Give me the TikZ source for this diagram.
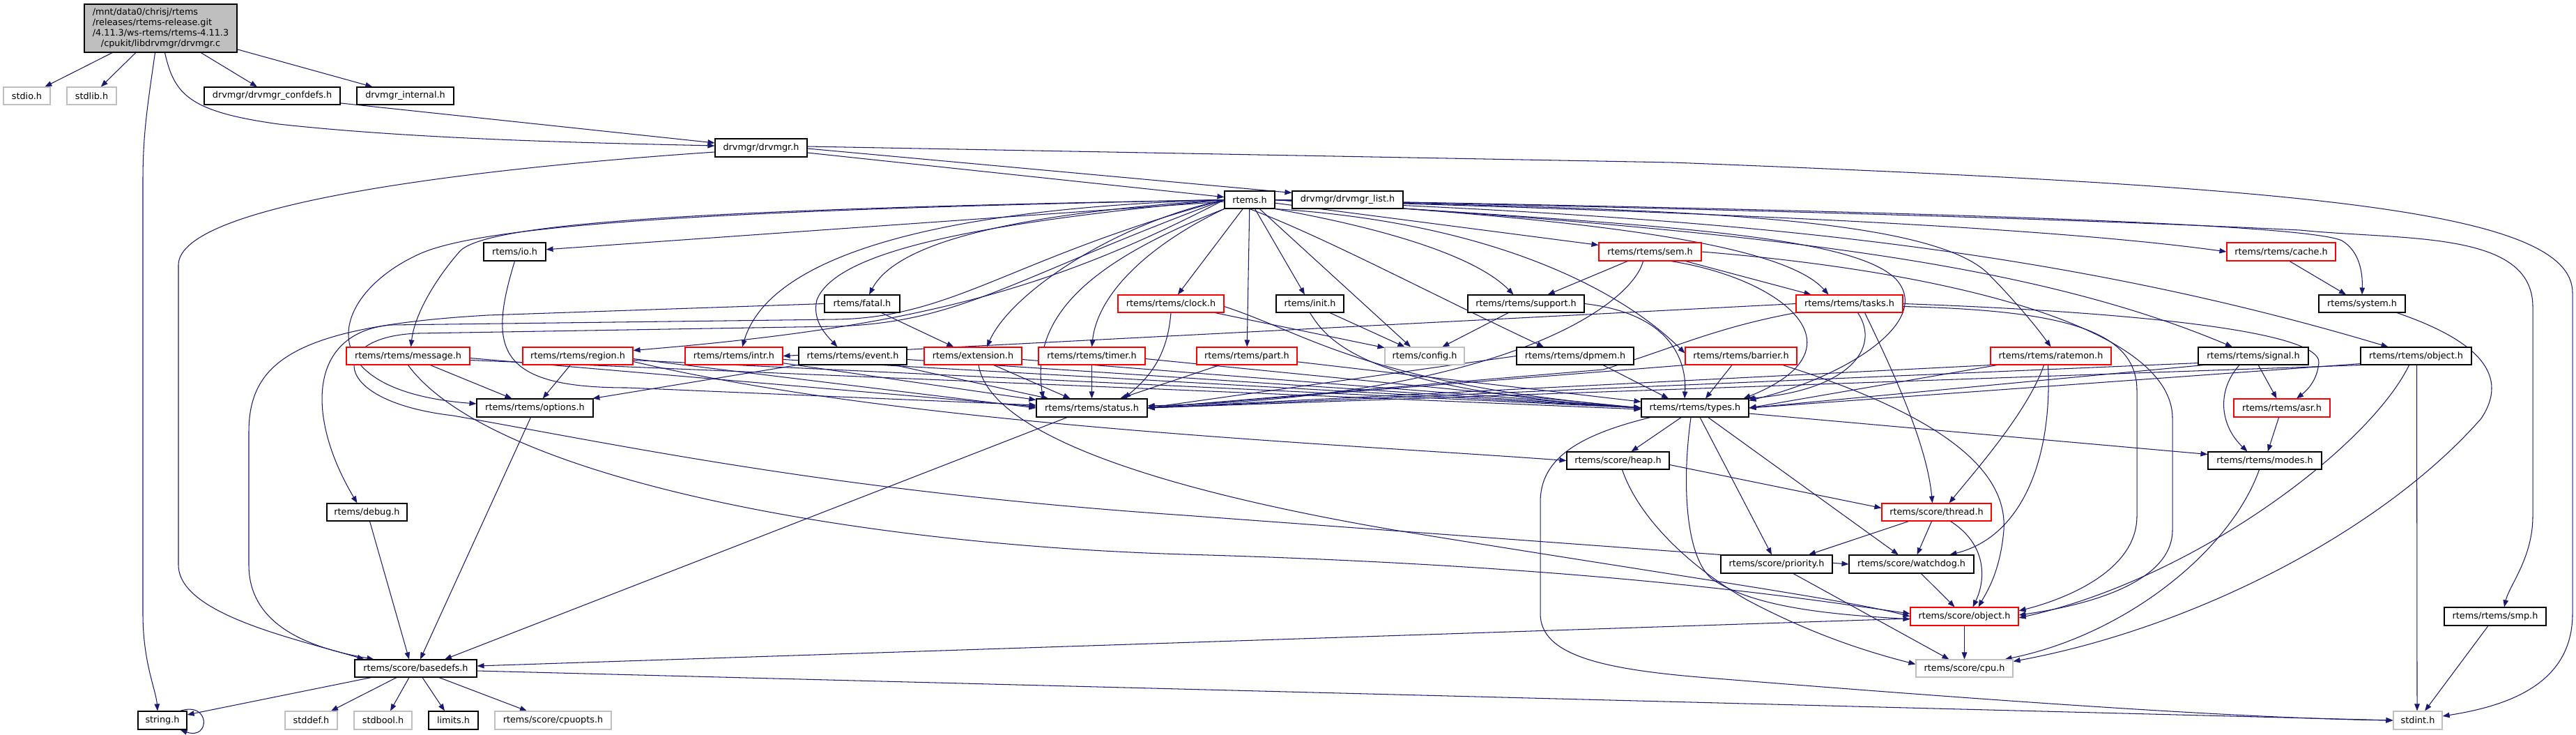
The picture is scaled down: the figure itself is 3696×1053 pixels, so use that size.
\documentclass[tikz,border=0pt]{standalone}
\usepackage{fontspec}
\setmainfont{DejaVu Sans}
\usetikzlibrary{arrows.meta}
\pgfdeclarelayer{bg}
\pgfsetlayers{bg,main}
\definecolor{edgec}{HTML}{191970}
\definecolor{grayb}{HTML}{BFBFBF}
\definecolor{redb}{HTML}{FF0000}
\newcommand{\mknode}[7]{\node[#6, minimum width={(#3-(#2))*1pt}, minimum height={(#5-(#4))*1pt}] (#1) at ({(#2+#3)/2},{(#4+#5)/2}) {#7};}
\begin{document}
\begin{tikzpicture}[x=1pt,y=-1pt,
 base/.style={rectangle, inner sep=0pt, line width=1.1pt, font=\fontsize{12.8}{15}\selectfont, fill=white, text=black},
 doc/.style={base, draw=black},
 trunc/.style={base, draw=redb},
 ext/.style={base, draw=grayb},
 mainn/.style={base, draw=black, fill=grayb},
 lnk/.style={draw=edgec, line width=1.05pt, -{Triangle[length=10pt,width=7.5pt]}}]
\useasboundingbox (0,0) rectangle (3696,1053);
% nodes
\mknode{main}{121}{340}{6}{75}{mainn}{\begin{tabular}{@{}l@{}}/mnt/data0/chrisj/rtems\\/releases/rtems-release.git\\/4.11.3/ws-rtems/rtems-4.11.3\\\multicolumn{1}{@{}c@{}}{/cpukit/libdrvmgr/drvmgr.c}\end{tabular}}
\mknode{stdio}{5}{72}{125}{150}{ext}{stdio.h}
\mknode{stdlib}{96}{167}{125}{150}{ext}{stdlib.h}
\mknode{confdefs}{293}{488}{125}{150}{doc}{drvmgr/drvmgr\_confdefs.h}
\mknode{internal}{512}{651}{125}{150}{doc}{drvmgr\_internal.h}
\mknode{drvmgr}{1026}{1158}{199}{225}{doc}{drvmgr/drvmgr.h}
\mknode{rtemsh}{1757}{1829}{274}{299}{doc}{rtems.h}
\mknode{dlist}{1854}{2013}{274}{299}{doc}{drvmgr/drvmgr\_list.h}
\mknode{io}{694}{783}{348}{374}{doc}{rtems/io.h}
\mknode{sem}{2294}{2441}{348}{374}{trunc}{rtems/rtems/sem.h}
\mknode{cache}{3195}{3351}{348}{374}{trunc}{rtems/rtems/cache.h}
\mknode{fatal}{1183}{1291}{423}{448}{doc}{rtems/fatal.h}
\mknode{clock}{1604}{1756}{423}{448}{trunc}{rtems/rtems/clock.h}
\mknode{init}{1831}{1928}{423}{448}{doc}{rtems/init.h}
\mknode{support}{2106}{2273}{423}{448}{doc}{rtems/rtems/support.h}
\mknode{tasks}{2577}{2730}{423}{448}{trunc}{rtems/rtems/tasks.h}
\mknode{system}{3327}{3451}{423}{448}{doc}{rtems/system.h}
\mknode{message}{497}{674}{498}{523}{trunc}{rtems/rtems/message.h}
\mknode{region}{750}{908}{498}{523}{trunc}{rtems/rtems/region.h}
\mknode{intr}{983}{1123}{498}{523}{trunc}{rtems/rtems/intr.h}
\mknode{event}{1146}{1301}{498}{523}{doc}{rtems/rtems/event.h}
\mknode{extension}{1326}{1466}{498}{523}{trunc}{rtems/extension.h}
\mknode{timer}{1490}{1643}{498}{523}{trunc}{rtems/rtems/timer.h}
\mknode{part}{1717}{1861}{498}{523}{trunc}{rtems/rtems/part.h}
\mknode{config}{1987}{2101}{498}{523}{ext}{rtems/config.h}
\mknode{dpmem}{2176}{2344}{498}{523}{doc}{rtems/rtems/dpmem.h}
\mknode{barrier}{2418}{2578}{498}{523}{trunc}{rtems/rtems/barrier.h}
\mknode{ratemon}{2856}{3029}{498}{523}{trunc}{rtems/rtems/ratemon.h}
\mknode{signal}{3154}{3312}{498}{523}{doc}{rtems/rtems/signal.h}
\mknode{robject}{3387}{3546}{498}{523}{doc}{rtems/rtems/object.h}
\mknode{options}{684}{851}{572}{598}{doc}{rtems/rtems/options.h}
\mknode{status}{1487}{1646}{572}{598}{doc}{rtems/rtems/status.h}
\mknode{types}{2355}{2509}{572}{598}{doc}{rtems/rtems/types.h}
\mknode{asr}{3205}{3343}{572}{598}{trunc}{rtems/rtems/asr.h}
\mknode{heap}{2248}{2395}{648}{673}{doc}{rtems/score/heap.h}
\mknode{modes}{3168}{3331}{648}{673}{doc}{rtems/rtems/modes.h}
\mknode{debug}{469}{584}{722}{747}{doc}{rtems/debug.h}
\mknode{thread}{2700}{2857}{722}{747}{trunc}{rtems/score/thread.h}
\mknode{priority}{2469}{2629}{796}{822}{doc}{rtems/score/priority.h}
\mknode{watchdog}{2653}{2832}{796}{822}{doc}{rtems/score/watchdog.h}
\mknode{sobject}{2741}{2896}{871}{897}{trunc}{rtems/score/object.h}
\mknode{smp}{3507}{3653}{871}{897}{doc}{rtems/rtems/smp.h}
\mknode{basedefs}{509}{684}{946}{971}{doc}{rtems/score/basedefs.h}
\mknode{cpu}{2749}{2888}{946}{971}{ext}{rtems/score/cpu.h}
\mknode{string}{198}{268}{1020}{1046}{doc}{string.h}
\mknode{stddef}{409}{484}{1020}{1046}{ext}{stddef.h}
\mknode{stdbool}{508}{591}{1020}{1046}{ext}{stdbool.h}
\mknode{limits}{615}{686}{1020}{1046}{doc}{limits.h}
\mknode{cpuopts}{710}{877}{1020}{1046}{ext}{rtems/score/cpuopts.h}
\mknode{stdint}{3434}{3504}{1020}{1046}{ext}{stdint.h}
\begin{pgfonlayer}{bg}
\fill[white] (0,0) rectangle (3696,1053);
% main file
\draw[lnk] (main) -- (stdio);
\draw[lnk] (main) -- (stdlib);
\draw[lnk] (main) -- (confdefs);
\draw[lnk] (main) -- (internal);
\draw[lnk] ([xshift=-8pt]main.south) .. controls (212,150) and (205,190) .. (205,260) -- (205,880) .. controls (205,950) and (224,990) .. ([xshift=-7pt]string.north);
\draw[lnk] ([xshift=6pt]main.south) .. controls (250,135) and (270,160) .. (400,178) .. controls (600,200) and (850,205) .. ([yshift=3pt]drvmgr.west);
\draw[lnk] (confdefs) -- (drvmgr);
% drvmgr.h
\draw[lnk] (drvmgr) -- (rtemsh);
\draw[lnk] ([yshift=-1pt]drvmgr.east) -- ([yshift=-3pt]dlist.north west);
\draw[lnk] ([yshift=-6pt]drvmgr.west) .. controls (700,240) and (256,290) .. (256,380) -- (256,810) .. controls (256,880) and (420,915) .. ([xshift=-74pt]basedefs.north);
\draw[lnk] ([yshift=2pt]drvmgr.east) -- (2400,233) .. controls (3300,268) and (3691,300) .. (3691,420) -- (3691,880) .. controls (3691,980) and (3600,1012) .. ([yshift=6pt]stdint.east);
% rtems.h
\draw[lnk] (rtemsh) -- (io);
\draw[lnk] (rtemsh.west) .. controls (1000,300) and (700,320) .. (660,360) .. controls (625,400) and (595,450) .. ([xshift=4pt]message.north);
\draw[lnk] (rtemsh.west) .. controls (1100,300) and (700,318) .. (600,365) .. controls (470,425) and (440,560) .. ([yshift=6pt]options.west);
\draw[lnk] (rtemsh.west) .. controls (1500,420) and (1300,470) .. ([yshift=8pt]region.east);
\draw[lnk] (rtemsh.west) .. controls (1450,370) and (1370,455) .. (1200,458) -- (560,466) .. controls (440,478) and (440,600) .. ([xshift=-14pt]debug.north);
\draw[lnk] (rtemsh.west) .. controls (1450,400) and (1380,462) .. (1200,468) -- (600,478) .. controls (470,482) and (470,575) .. (650,596) .. controls (900,640) and (1200,705) .. (1700,739) -- (watchdog.west);
\draw[lnk] (rtemsh.west) .. controls (1400,310) and (1280,360) .. ([xshift=10pt]fatal.north);
\draw[lnk] (rtemsh.west) .. controls (1300,300) and (1100,380) .. ([xshift=12pt]intr.north);
\draw[lnk] (rtemsh.west) .. controls (1400,320) and (1200,360) .. (1172,430) .. controls (1165,460) and (1185,480) .. ([xshift=-22pt]event.north);
\draw[lnk] (rtemsh.west) .. controls (1600,320) and (1450,420) .. ([xshift=20pt]extension.north);
\draw[lnk] (rtemsh.south west) .. controls (1650,350) and (1575,420) .. (timer.north);
\draw[lnk] (rtemsh) -- (clock);
\draw[lnk] (rtemsh) -- (part);
\draw[lnk] (rtemsh) -- (init);
\draw[lnk] (rtemsh) -- ([xshift=-20pt]config.north);
\draw[lnk] (rtemsh.south) .. controls (1900,340) and (2050,420) .. ([xshift=-45pt]dpmem.north);
\draw[lnk] (rtemsh.south east) .. controls (2000,330) and (2120,370) .. ([xshift=-18pt]support.north);
\draw[lnk] (rtemsh) -- (sem);
\draw[lnk] (rtemsh.east) .. controls (2200,310) and (2550,340) .. ([xshift=-30pt]tasks.north);
\draw[lnk] (rtemsh.south east) .. controls (2150,320) and (2330,420) .. ([yshift=4pt]barrier.west);
\draw[lnk] (rtemsh.east) .. controls (2300,300) and (2750,300) .. (2850,390) .. controls (2900,440) and (2930,480) .. (ratemon.north);
\draw[lnk] (rtemsh.south west) .. controls (1550,380) and (1480,460) .. ([xshift=-70pt]status.north);
\draw[lnk] (rtemsh.east) .. controls (2300,320) and (2650,330) .. (2720,400) .. controls (2775,460) and (2650,540) .. ([yshift=-3pt]types.north east);
\draw[lnk] (rtemsh.east) .. controls (2300,300) and (2900,320) .. (cache.west);
\draw[lnk] (rtemsh.east) .. controls (2600,300) and (3300,318) .. (3360,345) .. controls (3385,360) and (3390,390) .. (system.north);
\draw[lnk] (rtemsh.east) .. controls (2500,330) and (2900,370) .. ([xshift=-30pt]signal.north);
\draw[lnk] (rtemsh.east) .. controls (2400,310) and (2900,340) .. ([xshift=-40pt]robject.north);
\draw[lnk] (rtemsh.east) .. controls (2500,300) and (3000,315) .. (3300,330) .. controls (3450,345) and (3634,330) .. (3634,440) -- (3634,740) .. controls (3634,800) and (3600,840) .. ([xshift=13pt]smp.north);
% io.h
\draw[lnk] (io.south) .. controls (700,500) and (712,556) .. (900,556) -- ([yshift=4pt]status.west);
% message.h
\draw[lnk] (message) -- (options);
\draw[lnk] ([yshift=-3pt]message.east) -- ([yshift=2pt]status.west);
\draw[lnk] ([yshift=-6pt]message.east) -- ([yshift=-2pt]types.west);
\draw[lnk] (message.south) .. controls (700,680) and (1200,780) .. (1700,795) .. controls (2300,812) and (2600,860) .. ([yshift=4pt]sobject.west);
% region.h
\draw[lnk] (region) -- (options);
\draw[lnk] ([yshift=-4pt]region.east) -- (status.west);
\draw[lnk] ([yshift=-6pt]region.east) -- (types.west);
\draw[lnk] ([yshift=-8pt]region.east) .. controls (1300,610) and (1900,635) .. (heap.west);
% intr.h, event.h, extension.h, fatal.h, timer.h
\draw[lnk] (intr) -- (status);
\draw[lnk] ([yshift=-5pt]intr.east) -- (types.west);
\draw[lnk] (event) -- (options);
\draw[lnk] (event) -- (status);
\draw[lnk] ([yshift=-5pt]event.east) -- (types.west);
\draw[lnk] (extension) -- (status);
\draw[lnk] ([yshift=-5pt]extension.east) -- (types.west);
\draw[lnk] ([xshift=8pt]extension.south) .. controls (1420,620) and (1650,700) .. (2000,760) .. controls (2400,825) and (2650,860) .. (sobject.west);
\draw[lnk] (fatal) -- (extension);
\draw[lnk] (fatal.west) -- (700,452) .. controls (420,468) and (357,520) .. (357,620) -- (357,810) .. controls (357,900) and (450,930) .. ([xshift=-60pt]basedefs.north);
\draw[lnk] (timer) -- (status);
\draw[lnk] ([yshift=-4pt]timer.east) -- (types.west);
% clock.h, part.h, init.h, support.h, dpmem.h
\draw[lnk] (clock.south) .. controls (1675,510) and (1650,540) .. ([xshift=46pt]status.north);
\draw[lnk] (clock) -- (config);
\draw[lnk] ([yshift=-4pt]clock.east) .. controls (1880,480) and (1960,550) .. (types.west);
\draw[lnk] (part) -- (status);
\draw[lnk] (part) -- (types);
\draw[lnk] (init) -- (config);
\draw[lnk] (init.south) .. controls (1905,490) and (1960,560) .. (types.west);
\draw[lnk] (support) -- (config);
\draw[lnk] (support.east) .. controls (2400,450) and (2420,520) .. ([xshift=-15pt]types.north);
\draw[lnk] (dpmem.west) -- (status.east);
\draw[lnk] ([xshift=40pt]dpmem.south) -- ([xshift=-38pt]types.north);
% sem.h, tasks.h
\draw[lnk] (sem) -- (support);
\draw[lnk] (sem) -- ([xshift=-55pt]tasks.north);
\draw[lnk] ([xshift=30pt]sem.south) .. controls (2560,400) and (2680,500) .. ([xshift=-8pt]types.north east);
\draw[lnk] ([xshift=-10pt]sem.south) .. controls (2340,440) and (2150,570) .. ([yshift=3pt]status.east);
\draw[lnk] (sem.east) .. controls (2800,390) and (3117,470) .. (3117,600) -- (3117,760) .. controls (3117,840) and (2980,870) .. ([yshift=2pt]sobject.east);
\draw[lnk] (tasks.west) -- (intr.east);
\draw[lnk] (tasks.south west) .. controls (2460,470) and (2400,500) .. (2300,530) -- (status.east);
\draw[lnk] ([xshift=12pt]tasks.south) .. controls (2700,500) and (2650,560) .. ([xshift=-2pt]types.north east);
\draw[lnk] ([xshift=22pt]tasks.south) .. controls (2720,540) and (2765,640) .. ([xshift=-6pt]thread.north);
\draw[lnk] (tasks.east) .. controls (3000,445) and (3330,470) .. (3327,520) .. controls (3325,545) and (3310,560) .. ([xshift=21pt]asr.north);
\draw[lnk] ([yshift=-4pt]tasks.east) .. controls (2950,445) and (3066,470) .. (3066,560) -- (3066,740) .. controls (3066,820) and (2960,860) .. ([yshift=8pt]sobject.east);
% barrier.h, ratemon.h
\draw[lnk] ([xshift=-13pt]barrier.south) -- ([xshift=15pt]types.north);
\draw[lnk] (barrier.south west) -- (status.east);
\draw[lnk] ([xshift=60pt]barrier.south) .. controls (2800,600) and (2880,680) .. (2875,760) .. controls (2870,820) and (2850,850) .. ([xshift=20pt]sobject.north);
\draw[lnk] (ratemon.south west) -- (status.east);
\draw[lnk] ([xshift=10pt]ratemon.south west) -- (types.east);
\draw[lnk] ([xshift=-10pt]ratemon.south) .. controls (2910,590) and (2830,680) .. ([xshift=18pt]thread.north);
\draw[lnk] ([xshift=-4pt]ratemon.south) .. controls (2945,660) and (2900,770) .. ([xshift=55pt]watchdog.north);
% signal.h, rtems/object.h
\draw[lnk] (signal) -- (asr);
\draw[lnk] ([xshift=-20pt]signal.south) .. controls (3180,560) and (3185,610) .. ([xshift=-25pt]modes.north);
\draw[lnk] ([yshift=3pt]signal.south west) -- (status.east);
\draw[lnk] ([xshift=8pt]signal.south west) -- (types.east);
\draw[lnk] (robject.south west) -- (status.east);
\draw[lnk] ([yshift=2pt]robject.south west) -- (types.east);
\draw[lnk] ([xshift=-10pt]robject.south) .. controls (3400,640) and (3150,830) .. ([yshift=-2pt]sobject.east);
\draw[lnk] ([xshift=1pt]robject.south) -- ([xshift=-1pt]stdint.north);
% cache.h, system.h, asr.h, modes.h, smp.h
\draw[lnk] ([xshift=12pt]cache.south) -- ([xshift=-23pt]system.north);
\draw[lnk] ([xshift=50pt]system.south) .. controls (3560,490) and (3600,540) .. (3560,600) .. controls (3420,760) and (3150,900) .. ([yshift=-3pt]cpu.north east);
\draw[lnk] (asr) -- (modes);
\draw[lnk] ([xshift=-8pt]modes.south) .. controls (3200,790) and (3050,910) .. ([xshift=-12pt]cpu.north east);
\draw[lnk] (smp) -- (stdint);
% types.h
\draw[lnk] (types) -- (heap);
\draw[lnk] (types) -- (priority);
\draw[lnk] (types) -- (watchdog);
\draw[lnk] ([xshift=-6pt]types.south) .. controls (2412,700) and (2420,800) .. (2456,830) .. controls (2520,875) and (2650,882) .. ([yshift=-4pt]sobject.west);
\draw[lnk] ([yshift=-8pt]types.east) -- ([yshift=9pt]modes.west);
\draw[lnk] ([xshift=-64pt]types.south) .. controls (2260,625) and (2210,660) .. (2210,720) -- (2210,880) .. controls (2210,940) and (2300,960) .. (2450,972) .. controls (2800,1000) and (3200,1030) .. (stdint.west);
% heap.h, thread.h, priority.h, watchdog.h, object.h
\draw[lnk] ([xshift=6pt]heap.south) .. controls (2350,740) and (2420,810) .. (2506,860) .. controls (2600,910) and (2680,935) .. ([yshift=6pt]cpu.west);
\draw[lnk] ([yshift=-6pt]heap.east) -- ([yshift=6pt]thread.west);
\draw[lnk] ([xshift=-40pt]thread.south) -- ([xshift=46pt]priority.north);
\draw[lnk] ([xshift=-7pt]thread.south) -- ([xshift=8pt]watchdog.north);
\draw[lnk] ([xshift=20pt]thread.south) .. controls (2850,780) and (2850,830) .. ([xshift=12pt]sobject.north);
\draw[lnk] ([xshift=24pt]priority.south) -- ([xshift=-22pt]cpu.north);
\draw[lnk] ([xshift=14pt]watchdog.south) -- ([xshift=-14pt]sobject.north);
\draw[lnk] (sobject) -- (cpu);
\draw[lnk] ([yshift=-3pt]sobject.west) -- ([yshift=3.5pt]basedefs.east);
% options, status, debug -> basedefs
\draw[lnk] ([xshift=-6pt]options.south) -- ([xshift=6.5pt]basedefs.north);
\draw[lnk] ([xshift=-35.5pt]status.south) -- ([xshift=41.5pt]basedefs.north);
\draw[lnk] ([xshift=4pt]debug.south) -- ([xshift=-9.5pt]basedefs.north);
% basedefs.h
\draw[lnk] ([xshift=-64pt]basedefs.south) -- ([yshift=8pt]string.east);
\draw[lnk] ([xshift=-27.5pt]basedefs.south) -- ([xshift=28.5pt]stddef.north);
\draw[lnk] ([xshift=-9.5pt]basedefs.south) -- ([xshift=10.5pt]stdbool.north);
\draw[lnk] ([xshift=9.5pt]basedefs.south) -- ([xshift=-12.5pt]limits.north);
\draw[lnk] ([xshift=33.5pt]basedefs.south) -- ([xshift=-37.5pt]cpuopts.north);
\draw[lnk] ([yshift=-3.5pt]basedefs.east) -- (stdint.west);
% string.h self loop
\draw[lnk] ([xshift=-10pt]string.north east) .. controls (302,1005) and (302,1062) .. ([xshift=-10pt]string.south east);
\end{pgfonlayer}
\end{tikzpicture}
\end{document}
